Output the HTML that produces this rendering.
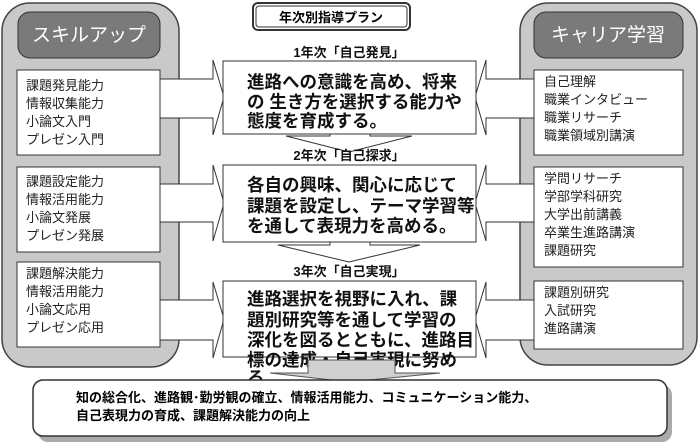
<!DOCTYPE html>
<html><head><meta charset="utf-8"><style>
body{margin:0;background:#fff;}
svg{display:block;}
text{font-family:"Liberation Sans","Noto Sans CJK JP",sans-serif;}
.s{font-size:13px;fill:#222;}
.c{font-size:17.5px;font-weight:bold;fill:#111;}
.l{font-size:13px;font-weight:bold;fill:#111;}
</style></head><body>
<svg width="700" height="446" viewBox="0 0 700 446">
<!-- left panel -->
<rect x="2" y="3" width="177" height="364" rx="28" fill="#c9c9c9" stroke="#444" stroke-width="1.5"/>
<rect x="18" y="12" width="142" height="46" rx="12" fill="#7a7a7a" stroke="#333"/>
<text x="89" y="41" text-anchor="middle" fill="#fff" font-size="19">スキルアップ</text>
<rect x="17" y="70" width="143" height="85" fill="#fff" stroke="#333"/>
<rect x="17" y="167" width="143" height="85" fill="#fff" stroke="#333"/>
<rect x="17" y="262" width="143" height="85" fill="#fff" stroke="#333"/>
<g class="s">
<text x="26" y="90">課題発見能力</text><text x="26" y="108">情報収集能力</text><text x="26" y="126">小論文入門</text><text x="26" y="144">プレゼン入門</text>
<text x="26" y="186">課題設定能力</text><text x="26" y="204">情報活用能力</text><text x="26" y="222">小論文発展</text><text x="26" y="240">プレゼン発展</text>
<text x="26" y="278">課題解決能力</text><text x="26" y="296">情報活用能力</text><text x="26" y="314">小論文応用</text><text x="26" y="332">プレゼン応用</text>
</g>
<!-- right panel -->
<rect x="520" y="3" width="177" height="362" rx="28" fill="#c9c9c9" stroke="#444" stroke-width="1.5"/>
<rect x="534" y="12" width="149" height="46" rx="12" fill="#7a7a7a" stroke="#333"/>
<text x="608" y="41" text-anchor="middle" fill="#fff" font-size="19">キャリア学習</text>
<rect x="534" y="70" width="149" height="85" fill="#fff" stroke="#333"/>
<rect x="534" y="167" width="149" height="100" fill="#fff" stroke="#333"/>
<rect x="534" y="281" width="149" height="68" fill="#fff" stroke="#333"/>
<g class="s">
<text x="544" y="86">自己理解</text><text x="544" y="104">職業インタビュー</text><text x="544" y="122">職業リサーチ</text><text x="544" y="140">職業領域別講演</text>
<text x="544" y="183">学問リサーチ</text><text x="544" y="201">学部学科研究</text><text x="544" y="219">大学出前講義</text><text x="544" y="237">卒業生進路講演</text><text x="544" y="255">課題研究</text>
<text x="544" y="297">課題別研究</text><text x="544" y="315">入試研究</text><text x="544" y="333">進路講演</text>
</g>
<!-- title -->
<rect x="253" y="3" width="157" height="27" rx="5" fill="#fff" stroke="#333" stroke-width="2"/>
<rect x="256" y="6" width="151" height="21" rx="3" fill="none" stroke="#333"/>
<text x="331" y="22" text-anchor="middle" font-size="13" font-weight="bold">年次別指導プラン</text>
<!-- side arrows -->
<g fill="#fff" stroke="#333">
<path d="M160,79 H213 V60 L224,97 L213,135 V118 H160 Z"/>
<path d="M160,184 H213 V165 L224,203 L213,241 V222 H160 Z"/>
<path d="M160,300 H213 V282 L224,319 L213,358 V340 H160 Z"/>
<path d="M534,79 H486 V60 L475,97 L486,135 V118 H534 Z"/>
<path d="M534,184 H486 V165 L475,203 L486,241 V222 H534 Z"/>
<path d="M534,300 H486 V282 L475,319 L486,358 V340 H534 Z"/>
<!-- down arrows -->
<path d="M330,128 V136 H286 L349,152 L412,136 H370 V128 Z"/>
<path d="M330,236 V245 H278 L349,262 L420,245 H370 V236 Z"/>
</g>
<!-- center boxes -->
<g fill="#fff" stroke="#333">
<rect x="223" y="61" width="253" height="73"/>
<rect x="223" y="165" width="253" height="77"/>
<rect x="223" y="281" width="253" height="76"/>
</g>
<g class="l" text-anchor="middle">
<text x="349" y="57">1年次「自己発見」</text>
<text x="349" y="160">2年次「自己探求」</text>
<text x="349" y="276">3年次「自己実現」</text>
</g>
<g class="c">
<text x="247" y="88">進路への意識を高め、将来</text>
<text x="247" y="108">の 生き方を選択する能力や</text>
<text x="247" y="127">態度を育成する。</text>
<text x="247" y="191">各自の興味、関心に応じて</text>
<text x="247" y="212">課題を設定し、テーマ学習等</text>
<text x="247" y="232">を通して表現力を高める。</text>
<text x="247" y="305">進路選択を視野に入れ、課</text>
<text x="247" y="326">題別研究等を通して学習の</text>
<text x="247" y="346">深化を図るとともに、進路目</text>
<text x="247" y="366">標の達成・自己実現に努め</text>
<text x="247" y="384">る</text>
</g>
<!-- bottom arrow -->
<path d="M308,360 H395 V373 H440 L349,382 L270,373 H308 Z" fill="#d0d0d0" stroke="#555"/>
<!-- bottom box -->
<rect x="38" y="385" width="634" height="57" rx="10" fill="#aaa"/>
<rect x="33" y="380" width="634" height="56" rx="10" fill="#fff" stroke="#333" stroke-width="1.5"/>
<text x="76" y="402" font-size="13" font-weight="bold">知の総合化、進路観･勤労観の確立、情報活用能力、コミュニケーション能力、</text>
<text x="76" y="420" font-size="13" font-weight="bold">自己表現力の育成、課題解決能力の向上</text>
</svg>
</body></html>
